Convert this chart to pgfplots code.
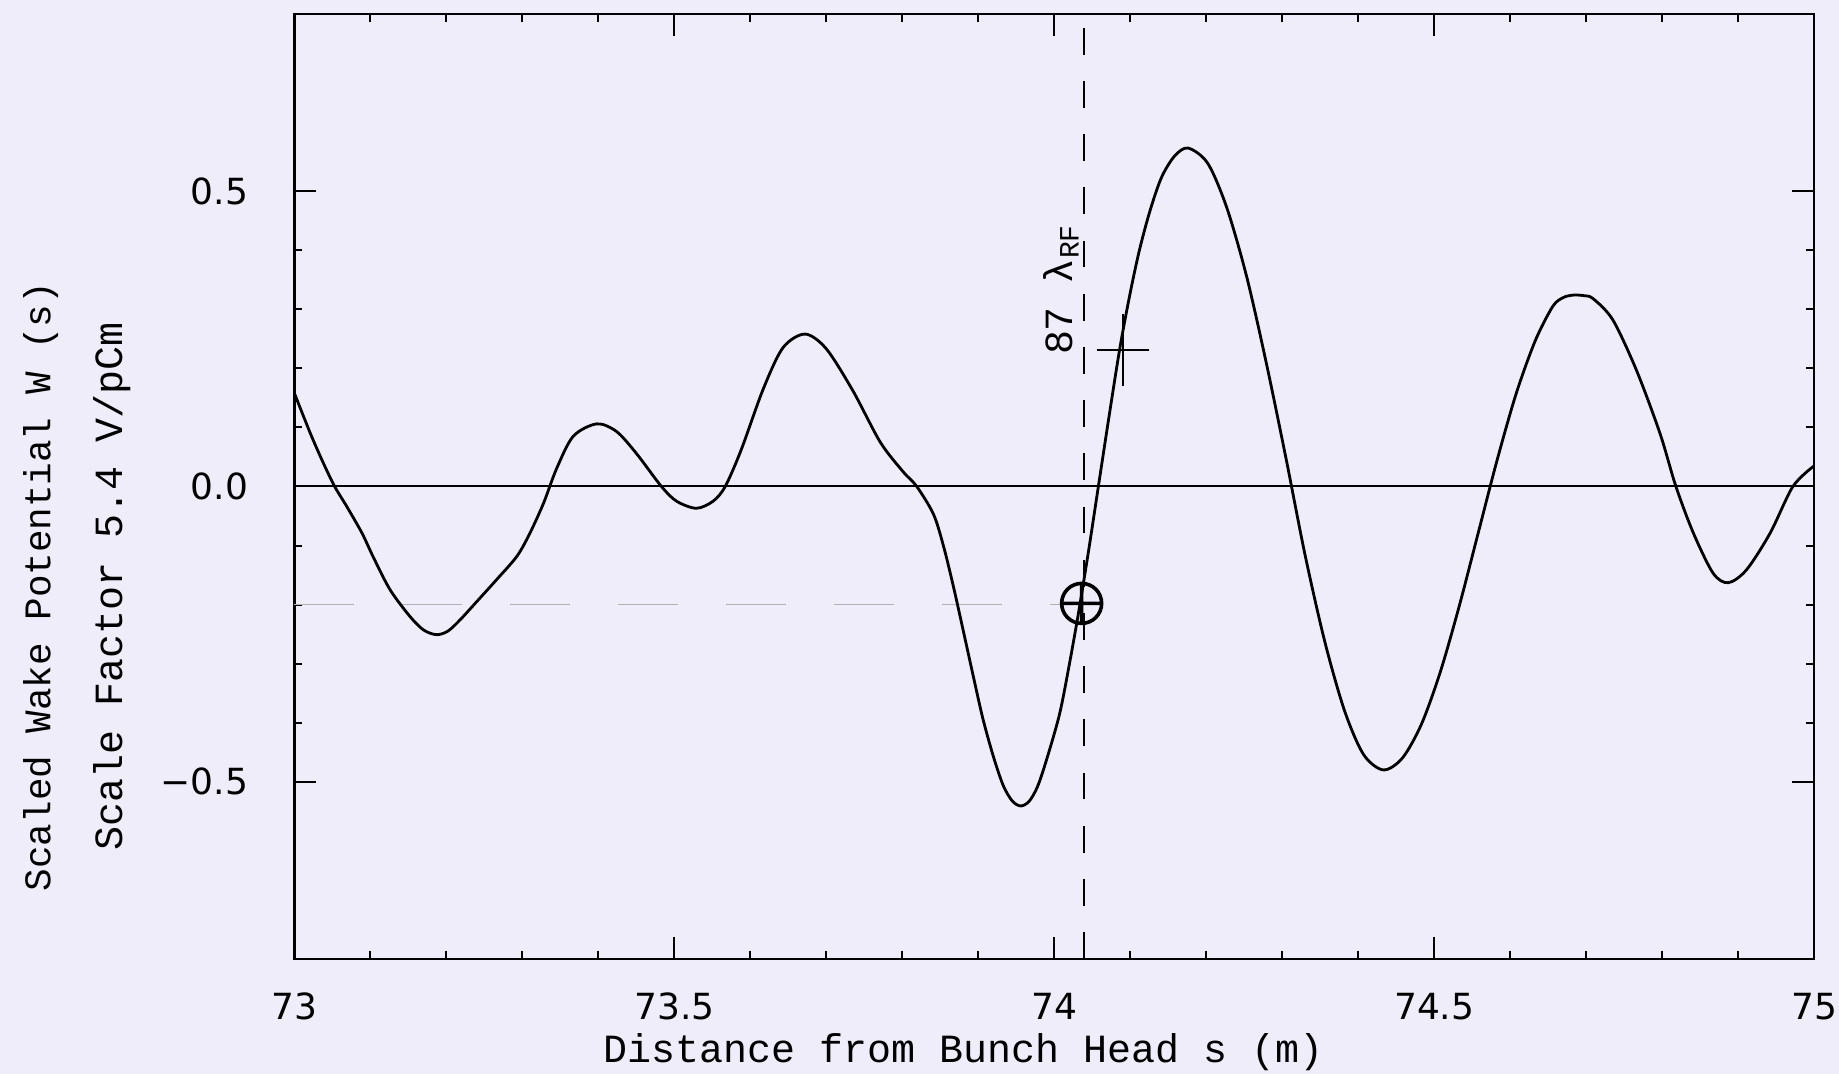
\documentclass[border=0pt]{standalone}
\usepackage{fontspec}
\setmainfont{Liberation Mono}
\newfontfamily\ticksans{DejaVu Sans}
\usepackage{pgfplots}
\pgfplotsset{compat=1.18}

\definecolor{paper}{RGB}{240,237,250}

\begin{document}
\begin{tikzpicture}
% scanned-paper tint behind everything (axis box: 380pt x 236.25pt at origin)
\fill[paper] (-73.6pt,-28.75pt) rectangle (386.2pt,239.75pt);
\begin{axis}[
    scale only axis,
    width=380pt, height=236.25pt,
    xmin=73, xmax=75, ymin=-0.8, ymax=0.8,
    xtick={73,73.5,74,74.5,75},
    xticklabels={73,73.5,74,74.5,75},
    ytick={-0.5,0,0.5},
    yticklabels={−0.5,0.0,0.5},
    minor x tick num=4,
    minor y tick num=4,
    tick align=inside,
    major tick length=5.5pt,
    minor tick length=2pt,
    tick style={black, line width=0.5pt},
    axis line style={black, line width=0.6pt},
    tick label style={font=\ticksans\fontsize{9}{11}\selectfont},
    xticklabel shift=5pt,
    yticklabel shift=8pt,
    xlabel={Distance from Bunch Head s (m)},
    xlabel style={font=\fontsize{10}{12}\selectfont, at={(rel axis cs:0.44,0)}, anchor=center, yshift=-23.25pt},
    ylabel={{\fontsize{9.4}{12}\selectfont Scaled Wake Potential W (s)}\\[6pt]Scale Factor 5.4 V/pCm},
    ylabel style={font=\fontsize{10}{12}\selectfont, align=center, at={(rel axis cs:-0.143,0.394)}, anchor=center},
    clip=false,
]
% zero line
\addplot[black, line width=0.5pt] coordinates {(73,0) (75,0)};
% faint reference level at -0.2
\addplot[gray!60, line width=0.4pt, dash pattern=on 15pt off 12pt] coordinates {(73,-0.2) (74.03,-0.2)};
% dashed marker line at 87 lambda_RF
\addplot[black, line width=0.6pt, dash pattern=on 6.7pt off 6.6pt] coordinates {(74.039,-0.8) (74.039,0.8)};

% wake potential
\addplot[black, line width=0.7pt, smooth] coordinates {
(73.000,0.158) (73.021,0.090) (73.038,0.040) (73.053,0.000) (73.069,-0.034)
(73.089,-0.079) (73.104,-0.120) (73.126,-0.175) (73.152,-0.220) (73.170,-0.243)
(73.187,-0.251) (73.202,-0.245) (73.218,-0.226) (73.240,-0.195) (73.266,-0.158) (73.293,-0.118)
(73.310,-0.079) (73.328,-0.028) (73.345,0.030) (73.367,0.085) (73.398,0.106)
(73.424,0.093) (73.450,0.056) (73.483,0.000) (73.503,-0.025) (73.529,-0.037)
(73.551,-0.025) (73.567,0.000) (73.588,0.062) (73.617,0.165) (73.643,0.235)
(73.672,0.258) (73.700,0.233) (73.735,0.162) (73.771,0.075) (73.801,0.025)
(73.819,0.000) (73.841,-0.047) (73.854,-0.100) (73.867,-0.168) (73.880,-0.243)
(73.893,-0.319) (73.906,-0.393) (73.920,-0.458) (73.933,-0.507) (73.945,-0.533)
(73.956,-0.541) (73.967,-0.533) (73.978,-0.508) (73.990,-0.462) (74.007,-0.385)
(74.020,-0.300) (74.032,-0.213) (74.045,-0.110) (74.058,0.000) (74.072,0.118)
(74.086,0.232) (74.099,0.322) (74.112,0.400) (74.126,0.467) (74.141,0.523)
(74.158,0.559) (74.176,0.573) (74.202,0.547) (74.227,0.472) (74.253,0.356)
(74.279,0.209) (74.305,0.047) (74.330,-0.116) (74.356,-0.263) (74.382,-0.380)
(74.407,-0.454) (74.433,-0.480) (74.458,-0.460) (74.483,-0.403) (74.508,-0.314)
(74.533,-0.202) (74.558,-0.078) (74.583,0.046) (74.608,0.158) (74.633,0.247)
(74.656,0.305) (74.670,0.320) (74.683,0.324) (74.697,0.323) (74.709,0.318)
(74.735,0.282) (74.766,0.197) (74.797,0.090) (74.818,0.000) (74.841,-0.079)
(74.867,-0.147) (74.887,-0.163) (74.911,-0.141) (74.942,-0.079) (74.972,0.000)
(75.000,0.035)
};

% crossing point and cursor
\addplot[only marks, mark=oplus, mark size=5pt, mark options={line width=0.9pt, black}]
    coordinates {(74.036,-0.198)};
\addplot[only marks, mark=+, mark size=6.5pt, mark options={line width=0.5pt, black, yscale=1.4}]
    coordinates {(74.09,0.231)};

\node[rotate=90, font=\fontsize{10}{12}\selectfont] at (axis cs:74.009,0.334) {87 λ\textsubscript{RF}};
\end{axis}
\pgfresetboundingbox
\useasboundingbox (-73.6pt,-28.75pt) rectangle (386.2pt,239.75pt);
\end{tikzpicture}
\end{document}
